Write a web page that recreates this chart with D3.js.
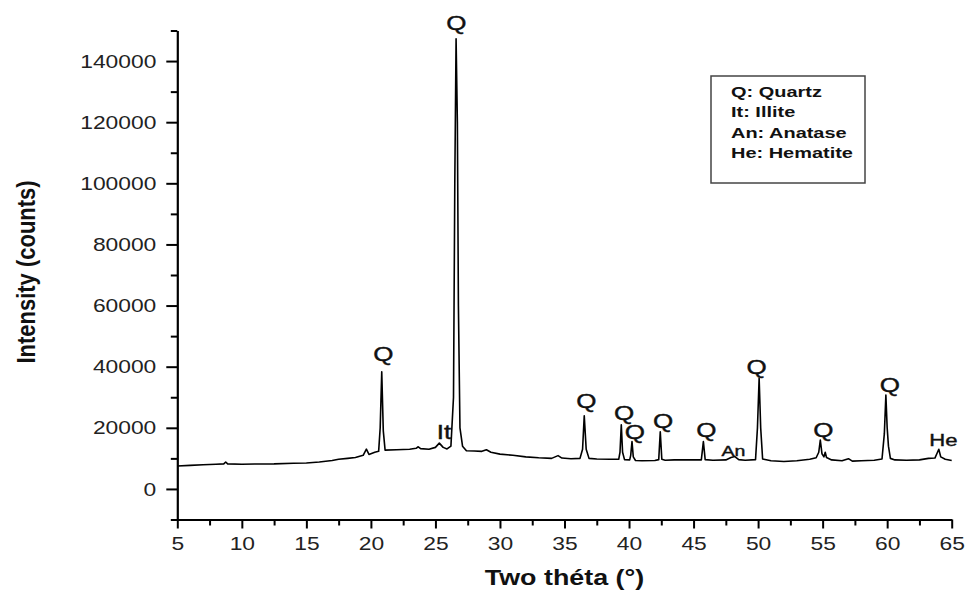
<!DOCTYPE html>
<html>
<head>
<meta charset="utf-8">
<script src="https://cdn.jsdelivr.net/npm/d3@7"></script>
<style>
    body { margin: 0; background: #fff; }
    svg { display: block; font-family: "Liberation Sans", Arial, sans-serif; }
</style>
</head>
<body>
<svg id="chart"></svg>
<script>
// XRD pattern, values
const twoTheta = [
    5.0, 6.0, 7.0, 8.0, 8.6, 8.75, 8.9, 10.0, 11.0, 12.5, 14.0, 15.0, 16.0, 17.0, 17.5,
    18.2, 18.8, 19.4, 19.65, 19.85, 20.3, 20.6, 20.72, 20.84, 20.96, 21.1, 22.0, 23.0,
    23.5, 23.67, 23.85, 24.5, 25.0, 25.3, 25.6, 25.9, 26.2, 26.4, 26.5, 26.6, 26.7,
    26.78, 26.9, 27.1, 27.4, 28.0, 28.6, 28.95, 29.3, 30.0, 31.0, 32.0, 33.0, 34.0,
    34.5, 34.8, 35.5, 36.2, 36.4, 36.53, 36.68, 36.9, 37.5, 38.5, 39.2, 39.3, 39.4,
    39.5, 39.65, 40.05, 40.13, 40.23, 40.33, 40.5, 41.0, 42.0, 42.3, 42.42, 42.54,
    42.8, 43.5, 44.5, 45.6, 45.76, 45.9, 46.5, 47.5, 47.9, 48.2, 48.5, 49.0, 49.8,
    49.95, 50.08, 50.2, 50.35, 51.0, 52.0, 53.0, 54.0, 54.5, 54.7, 54.82, 54.95, 55.1,
    55.2, 55.3, 55.7, 56.5, 57.0, 57.3, 58.0, 59.0, 59.6, 59.78, 59.9, 60.0, 60.1,
    60.25, 60.6, 61.5, 62.5, 63.2, 63.7, 63.9, 64.0, 64.15, 64.5, 65.0
];
const intensity = [
    7500, 7700, 7900, 8100, 8200, 8800, 8200, 8100, 8150, 8200, 8400, 8500, 8800, 9300, 9700,
    10000, 10300, 11000, 13000, 11300, 12000, 12300, 20000, 38300, 19000, 12700, 12800, 13000,
    13300, 13800, 13200, 13000, 13600, 15000, 13600, 13100, 14000, 30000, 100000, 147300, 120000,
    60000, 20000, 14000, 12500, 12400, 12300, 12800, 12000, 11400, 11000, 10500, 10200, 10000,
    10900, 10100, 9900, 10000, 13000, 23900, 13000, 10000, 9800, 9700, 9700, 12000, 21000,
    12000, 9600, 9500, 11000, 15500, 10500, 9300, 9200, 9300, 9600, 18700, 9700,
    9400, 9500, 9500, 9500, 15500, 9600, 9400, 9500, 10300, 10600, 9600, 9400, 9600,
    20000, 36200, 20000, 9800, 9200, 9000, 9200, 9700, 10200, 12000, 16000, 11500, 10500,
    12000, 10300, 9500, 9200, 9900, 9100, 9200, 9400, 9800, 18000, 30700, 20000, 14000,
    10000, 9500, 9400, 9500, 10000, 10100, 12000, 13000, 10500, 9700, 9300
];

// phase labels over the peaks (label baseline in data units)
const peakLabels = ['Q', 'Q', 'It', 'Q', 'Q', 'Q', 'Q', 'Q', 'An', 'Q', 'Q', 'Q', 'He'];
const peakLabelTheta = [26.62, 20.96, 25.66, 36.69, 39.61, 40.46, 42.65, 45.99, 48.08, 49.89, 55.05, 60.22, 64.35];
const peakLabelIntensity = [150200, 41800, 16200, 26400, 22500, 16200, 19800, 16900, 10900, 37500, 17100, 31800, 14200];

const legendItems = ['Q: Quartz', 'It: Illite', 'An: Anatase', 'He: Hematite'];

const xTicks = [5, 10, 15, 20, 25, 30, 35, 40, 45, 50, 55, 60, 65];
const xMinorTicks = [7.5, 12.5, 17.5, 22.5, 27.5, 32.5, 37.5, 42.5, 47.5, 52.5, 57.5, 62.5];
const yTicks = [0, 20000, 40000, 60000, 80000, 100000, 120000, 140000];
const yMinorTicks = [-10000, 10000, 30000, 50000, 70000, 90000, 110000, 130000, 150000];

const margin = { top: 30.5, right: 24.3, bottom: 70.5, left: 177.3 };
const W = 976, H = 590;
const width = W - margin.left - margin.right;
const height = H - margin.top - margin.bottom;

// the source image is stretched horizontally, so glyphs are widened
function stretch(sel, f) {
    sel.each(function () {
        const w = this.getComputedTextLength();
        d3.select(this).attr('textLength', w * f).attr('lengthAdjust', 'spacingAndGlyphs');
    });
}

const svg = d3.select('#chart').attr('width', W).attr('height', H);
const g = svg.append('g').attr('transform', `translate(${margin.left},${margin.top})`);

const x = d3.scaleLinear().domain([5, 65]).range([0, width]);
const y = d3.scaleLinear().domain([-10000, 150000]).range([height, 0]);

// pattern
const line = d3.line()
    .x(i => x(twoTheta[i]))
    .y(i => y(intensity[i]));

g.append('path')
    .datum(d3.range(twoTheta.length))
    .attr('d', line)
    .attr('fill', 'none')
    .attr('stroke', '#000')
    .attr('stroke-width', 1.6)
    .attr('stroke-linejoin', 'round');

// axes
const xAxis = g.append('g').attr('transform', `translate(0,${height})`)
    .call(d3.axisBottom(x).tickValues(xTicks).tickSize(9).tickPadding(8).tickSizeOuter(0));
g.append('g').attr('transform', `translate(0,${height})`)
    .call(d3.axisBottom(x).tickValues(xMinorTicks).tickSize(6).tickFormat('').tickSizeOuter(0))
    .call(a => a.select('.domain').remove());

const yAxis = g.append('g')
    .call(d3.axisLeft(y).tickValues(yTicks).tickFormat(d3.format('d'))
        .tickSize(11).tickPadding(10).tickSizeOuter(0));
g.append('g')
    .call(d3.axisLeft(y).tickValues(yMinorTicks).tickSize(6.5).tickFormat('').tickSizeOuter(0))
    .call(a => a.select('.domain').remove());

g.selectAll('.domain').attr('stroke', '#000').attr('stroke-width', 2.2);
g.selectAll('.tick line').attr('stroke', '#000').attr('stroke-width', 2);
g.selectAll('.tick text')
    .attr('fill', '#222')
    .style('font-family', '"Liberation Sans", Arial, sans-serif')
    .style('font-size', '19px');
stretch(xAxis.selectAll('.tick text'), 1.2);
stretch(yAxis.selectAll('.tick text'), 1.2);

// axis titles
const xTitle = svg.append('text')
    .attr('x', margin.left + width / 2)
    .attr('y', 585)
    .attr('text-anchor', 'middle')
    .style('font-size', '22px')
    .style('font-weight', 'bold')
    .attr('fill', '#111')
    .text('Two théta (°)');
stretch(xTitle, 1.22);

svg.append('text')
    .attr('transform', `translate(35,272) scale(1.2,1) rotate(-90)`)
    .attr('text-anchor', 'middle')
    .style('font-size', '22px')
    .style('font-weight', 'bold')
    .attr('fill', '#111')
    .text('Intensity (counts)');

// peak labels
const labelSize = { Q: 20, It: 20, An: 15, He: 17 };
const labels = g.selectAll('.peak-label')
    .data(peakLabels)
    .join('text')
    .attr('class', 'peak-label')
    .attr('x', (d, i) => x(peakLabelTheta[i]))
    .attr('y', (d, i) => y(peakLabelIntensity[i]))
    .attr('text-anchor', 'middle')
    .attr('fill', '#111')
    .attr('stroke', '#111')
    .attr('stroke-width', 0.4)
    .style('font-size', d => labelSize[d] + 'px')
    .text(d => d);
stretch(labels, 1.3);

// legend
const legend = svg.append('g').attr('transform', 'translate(711,76)');
legend.append('rect')
    .attr('width', 154)
    .attr('height', 107)
    .attr('fill', '#fff')
    .attr('stroke', '#444')
    .attr('stroke-width', 1.5);
const legendText = legend.selectAll('text')
    .data(legendItems)
    .join('text')
    .attr('x', 20)
    .attr('y', (d, i) => 20.7 + i * 20.5)
    .attr('fill', '#111')
    .style('font-size', '15px')
    .style('font-weight', 'bold')
    .text(d => d);
stretch(legendText, 1.33);
</script>
</body>
</html>
